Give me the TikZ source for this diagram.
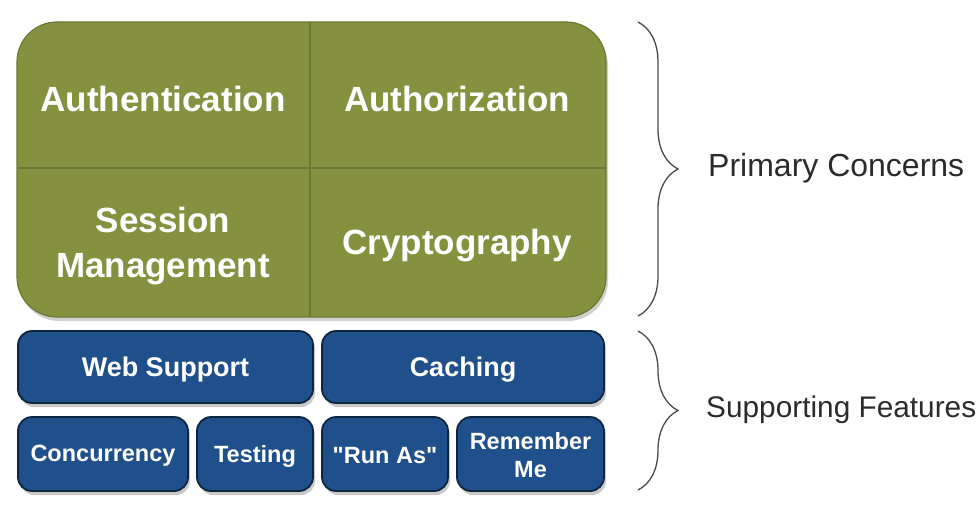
\documentclass[tikz,border=0pt]{standalone}
\usepackage{fontspec}
\setmainfont{Liberation Sans}
\usetikzlibrary{shadows,decorations.pathreplacing}
\definecolor{coregreen}{HTML}{86913F}
\definecolor{coreline}{HTML}{6C7733}
\definecolor{featblue}{HTML}{1F508C}
\definecolor{featline}{HTML}{0E2540}
\definecolor{labelgray}{HTML}{2B2B2B}
\definecolor{bracegray}{HTML}{4A4A4A}
\newcommand\straightquote{\XeTeXglyph\XeTeXcharglyph"22\relax}
\tikzset{
  greenbox/.style={draw=coreline, line width=1.2pt, fill=coregreen, rounded corners=40pt,
    drop shadow={shadow xshift=2pt, shadow yshift=-4pt, opacity=0.3, fill=black!60}},
  bluebox/.style={draw=featline, line width=1.8pt, fill=featblue, rounded corners=14pt,
    drop shadow={shadow xshift=2pt, shadow yshift=-4pt, opacity=0.35, fill=black!60}},
  bigtxt/.style={text=white, font=\fontsize{35}{45}\selectfont\bfseries, align=center, inner sep=0pt},
  midtxt/.style={text=white, font=\fontsize{27}{32}\selectfont\bfseries, align=center, inner sep=0pt},
  smalltxt/.style={text=white, font=\fontsize{23.5}{28}\selectfont\bfseries, align=center, inner sep=0pt},
  sidetxt/.style={text=labelgray, font=\fontsize{32}{38}\selectfont, anchor=west, inner sep=0pt},
  bracestyle/.style={draw=bracegray, line width=1.3pt,
    decorate, decoration={brace, amplitude=40pt, aspect=0.5}},
  divider/.style={draw=coreline, line width=1.2pt}
}
\begin{document}
\begin{tikzpicture}[x=1pt,y=-1pt]
\useasboundingbox (0,0) rectangle (979,519);
\fill[white] (0,0) rectangle (979,519);

% primary concerns block
\node[greenbox, minimum width=589pt, minimum height=295pt] (core) at (311.5,169.5) {};
\coordinate (dtop) at (310,22);
\coordinate (dbot) at (310,317);
\coordinate (dleft) at (17,168);
\coordinate (dright) at (606,168);
\draw[divider] (dtop) -- (dbot);
\draw[divider] (dleft) -- (dright);

\node[bigtxt] (authn) at (163,99) {Authentication};
\node[bigtxt] (authz) at (457,99) {Authorization};
\node[bigtxt] (sess) at (163,246) {Session\\Management};
\node[bigtxt] (crypt) at (457,246) {Cryptography};

% supporting features
\node[bluebox, minimum width=295pt, minimum height=72pt] (web) at (165.5,367) {};
\node[midtxt] at ([yshift=-3pt]web.center) {Web Support};
\node[bluebox, minimum width=282pt, minimum height=72pt] (cache) at (463,367) {};
\node[midtxt] at ([yshift=-3pt]cache.center) {Caching};

\node[bluebox, minimum width=170pt, minimum height=74pt] (conc) at (103,454) {};
\node[smalltxt] at ([yshift=-2pt]conc.center) {Concurrency};
\node[bluebox, minimum width=116pt, minimum height=74pt] (test) at (255,454) {};
\node[smalltxt] at ([yshift=-2pt]test.center) {Testing};
\node[bluebox, minimum width=126pt, minimum height=74pt] (runas) at (385,454) {};
\node[smalltxt] at ([yshift=-2pt]runas.center) {\straightquote Run As\straightquote};
\node[bluebox, minimum width=147pt, minimum height=74pt] (remember) at (530.5,454) {};
\node[smalltxt] at ([yshift=-1pt]remember.center) {Remember\\Me};

% braces
\coordinate (b1s) at (638,22);
\coordinate (b1e) at (638,316);
\coordinate (b2s) at (638,331);
\coordinate (b2e) at (638,490);
\draw[bracestyle] (b1s) -- (b1e);
\draw[bracestyle] (b2s) -- (b2e);

\node[sidetxt] (primary) at (708,168) {Primary Concerns};
\node[sidetxt, font=\fontsize{29.8}{36}\selectfont] (support) at (706,410) {Supporting Features};
\end{tikzpicture}
\end{document}
